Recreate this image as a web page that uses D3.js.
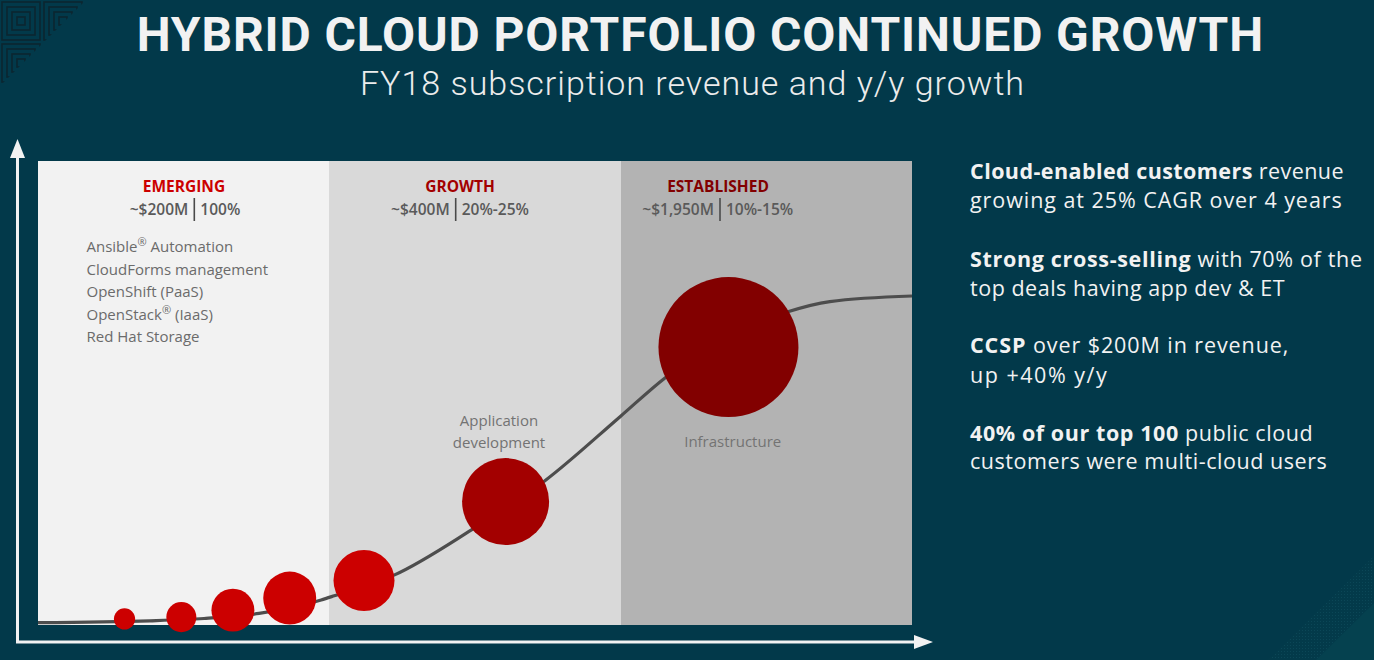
<!DOCTYPE html>
<html>
<head>
<meta charset="utf-8">
<script src="https://cdn.jsdelivr.net/npm/d3@7"></script>
<style>
html,body{margin:0;padding:0;background:#02394a;overflow:hidden}
svg{display:block}
</style>
</head>
<body>
<svg id="chart" width="1374" height="660"></svg>
<script>
// ---------------- DATA ----------------
const phases = ["EMERGING", "GROWTH", "ESTABLISHED"];
const phaseRevenue = ["~$200M", "~$400M", "~$1,950M"];
const phaseGrowth = ["100%", "20%-25%", "10%-15%"];
const phaseStart = [0, 33.33, 66.67];
const phaseEnd = [33.33, 66.67, 100];

const emergingProducts = ["Ansible® Automation", "CloudForms management", "OpenShift (PaaS)", "OpenStack® (IaaS)", "Red Hat Storage"];

// adoption curve (x: time 0-100, y: maturity 0-100)
const curveX = [0, 12.8, 19.0, 25.3, 32.4, 33.9, 40.8, 49.6, 58.0, 66.6, 71.7, 85.8, 90.6, 100];
const curveY = [0.5, 0.9, 1.4, 2.5, 5.4, 6.3, 10.8, 20.5, 31.1, 44.9, 53.2, 67.5, 69.7, 70.9];

// bubbles (subscription revenue size index)
const bubbleX = [9.9, 16.4, 22.3, 28.8, 37.3, 53.5, 79.0];
const bubbleY = [1.3, 1.7, 3.2, 5.8, 9.6, 26.6, 59.9];
const bubbleSize = [2.3, 4.6, 9.4, 14.3, 19.0, 38.6, 100];
const bubbleLabel = ["", "", "", "", "", "Application\ndevelopment", "Infrastructure"];
const bubblePhase = [0, 0, 0, 0, 0, 1, 2];

const title = "HYBRID CLOUD PORTFOLIO CONTINUED GROWTH";
const subtitle = "FY18 subscription revenue and y/y growth";
const highlights = [
  [[["Cloud-enabled customers", true], [" revenue", false]], [["growing at 25% CAGR over 4 years", false]]],
  [[["Strong cross-selling", true], [" with 70% of the", false]], [["top deals having app dev & ET", false]]],
  [[["CCSP", true], [" over $200M in revenue,", false]], [["up +40% y/y", false]]],
  [[["40% of our top 100", true], [" public cloud", false]], [["customers were multi-cloud users", false]]]
];

// ---------------- STYLE / LAYOUT ----------------
const BG = "#02394a";
const panelFill = ["#f2f2f2", "#d9d9d9", "#b3b3b3"];
const phaseColor = ["#cc0000", "#a30000", "#820000"];
const FONT = "'Open Sans', sans-serif";
const TFONT = "Roboto, 'Open Sans', sans-serif";

const svg = d3.select("#chart");
svg.append("rect").attr("width", 1374).attr("height", 660).attr("fill", BG);

// decorations: corner patterns
const defs = svg.append("defs");
defs.append("clipPath").attr("id", "tl").append("path").attr("d", "M0,0L86,0L0,86Z");
const tl = svg.append("g").attr("clip-path", "url(#tl)");
[[0, 0], [42, 0], [0, 42]].forEach(([tx, ty]) => {
  [2, 7, 12, 17].forEach(ins => {
    tl.append("rect").attr("x", tx + ins).attr("y", ty + ins)
      .attr("width", 42 - 2 * ins).attr("height", 42 - 2 * ins)
      .attr("fill", "none").attr("stroke", "#0c2630").attr("stroke-width", 1.6);
  });
});
const dotPat = defs.append("pattern").attr("id", "dots").attr("width", 3).attr("height", 3).attr("patternUnits", "userSpaceOnUse");
dotPat.append("rect").attr("width", 3).attr("height", 3).attr("fill", "#033a4a");
dotPat.append("rect").attr("width", 1).attr("height", 1).attr("fill", "#0b4757");
svg.append("path").attr("d", "M1268,660L1374,556L1374,603L1316,660Z").attr("fill", "url(#dots)");
svg.append("path").attr("d", "M1316,660L1374,603L1374,660Z").attr("fill", "#05414f");

// scales
const x = d3.scaleLinear().domain([0, 100]).range([38, 912]);
const y = d3.scaleLinear().domain([0, 100]).range([625, 161]);
const r = d3.scaleSqrt().domain([0, 100]).range([0, 70]);

// panels (snapped to whole pixels)
const panels = svg.append("g").attr("shape-rendering", "crispEdges");
phases.forEach((p, i) => {
  const x0 = Math.round(x(phaseStart[i])), x1 = Math.round(x(phaseEnd[i]));
  panels.append("rect")
    .attr("x", x0).attr("y", y(100))
    .attr("width", x1 - x0 + (i < 2 ? 1 : 0))
    .attr("height", y(0) - y(100))
    .attr("fill", panelFill[i]);
});

// axes arrows
const ax = svg.append("g").attr("fill", "#f2f2f2").attr("stroke", "#f2f2f2");
ax.append("line").attr("x1", 17.5).attr("x2", 17.5).attr("y1", 643).attr("y2", 155).attr("stroke-width", 3);
ax.append("path").attr("d", "M17.5,139L25,158L10,158Z").attr("stroke", "none");
ax.append("line").attr("x1", 16).attr("x2", 916).attr("y1", 642).attr("y2", 642).attr("stroke-width", 3);
ax.append("path").attr("d", "M933,642L914,635L914,649Z").attr("stroke", "none");

// phase headers
const headerCx = [184, 460, 718];
const sepX = [194.3, 455.7, 720];
phases.forEach((p, i) => {
  svg.append("text").attr("x", headerCx[i]).attr("y", 192)
    .attr("text-anchor", "middle").attr("font-family", FONT).attr("font-weight", 700)
    .attr("font-size", 15.5).attr("fill", phaseColor[i]).text(p);
  svg.append("text").attr("x", sepX[i] - 6).attr("y", 215)
    .attr("text-anchor", "end").attr("font-family", FONT).attr("font-weight", 600)
    .attr("font-size", 15.5).attr("fill", "#5a5a5a").text(phaseRevenue[i]);
  svg.append("text").attr("x", sepX[i] + 6).attr("y", 215)
    .attr("text-anchor", "start").attr("font-family", FONT).attr("font-weight", 600)
    .attr("font-size", 15.5).attr("fill", "#5a5a5a").text(phaseGrowth[i]);
  svg.append("line").attr("x1", sepX[i]).attr("x2", sepX[i]).attr("y1", 198).attr("y2", 221)
    .attr("stroke", "#4a4a4a").attr("stroke-width", 1.6);
});

// emerging product list
emergingProducts.forEach((t, i) => {
  const tx = svg.append("text").attr("x", 86.5).attr("y", 252.3 + i * 22.4)
    .attr("font-family", FONT).attr("font-size", 15).attr("fill", "#6b6b6b");
  const parts = t.split("®");
  tx.append("tspan").text(parts[0]);
  if (parts.length > 1) {
    tx.append("tspan").attr("font-size", 11).attr("dy", -6).text("®");
    tx.append("tspan").attr("dy", 6).text(parts[1]);
  }
});

// curve
const line = d3.line().x(d => x(d[0])).y(d => y(d[1])).curve(d3.curveMonotoneX);
svg.append("path").datum(curveX.map((v, i) => [v, curveY[i]]))
  .attr("d", line).attr("fill", "none").attr("stroke", "#4d4d4d").attr("stroke-width", 3.2)
  .attr("stroke-linecap", "butt");

// bubbles
svg.append("g").selectAll("circle").data(bubbleX.map((v, i) => i)).join("circle")
  .attr("cx", i => x(bubbleX[i])).attr("cy", i => y(bubbleY[i])).attr("r", i => r(bubbleSize[i]))
  .attr("fill", i => i < 5 ? "#cc0000" : phaseColor[bubblePhase[i]]);

// bubble labels
const labelPos = { 5: [499, 425.7], 6: [732.7, 446.7] };
bubbleLabel.forEach((lab, i) => {
  if (!lab) return;
  lab.split("\n").forEach((ln, j) => {
    svg.append("text").attr("x", labelPos[i][0]).attr("y", labelPos[i][1] + j * 22.6)
      .attr("text-anchor", "middle").attr("font-family", FONT).attr("font-size", 15)
      .attr("fill", "#737373").text(ln);
  });
});

// fit helper: adjust letter spacing to reach target width
function fit(sel, target) {
  const n = sel.node().getNumberOfChars();
  const w = sel.node().getComputedTextLength();
  sel.attr("letter-spacing", ((target - w) / n).toFixed(3));
}

// title
const tt = svg.append("text").attr("x", 136.7).attr("y", 51)
  .attr("font-family", TFONT).attr("font-weight", 700).attr("font-size", 48)
  .attr("fill", "#f2f2f2").text(title);
fit(tt, 1127.3);
const st = svg.append("text").attr("x", 360).attr("y", 95)
  .attr("font-family", TFONT).attr("font-weight", 300).attr("font-size", 34)
  .attr("fill", "#ececec").text(subtitle);
fit(st, 665);

// right highlights
const lineBase = [[179.3, 208.3], [266.7, 295.7], [353.3, 382.7], [440.7, 469.3]];
const lineW = [[374, 372.7], [392.7, 315], [319.3, 138.3], [343.3, 357.3]];
highlights.forEach((para, p) => {
  para.forEach((segs, l) => {
    const t = svg.append("text").attr("x", 970).attr("y", lineBase[p][l])
      .attr("font-family", FONT).attr("font-size", 21.5).attr("fill", "#f2f2f2");
    segs.forEach(([s, b]) => t.append("tspan").attr("font-weight", b ? 700 : 400).text(s));
    fit(t, lineW[p][l]);
  });
});
</script>
</body>
</html>
